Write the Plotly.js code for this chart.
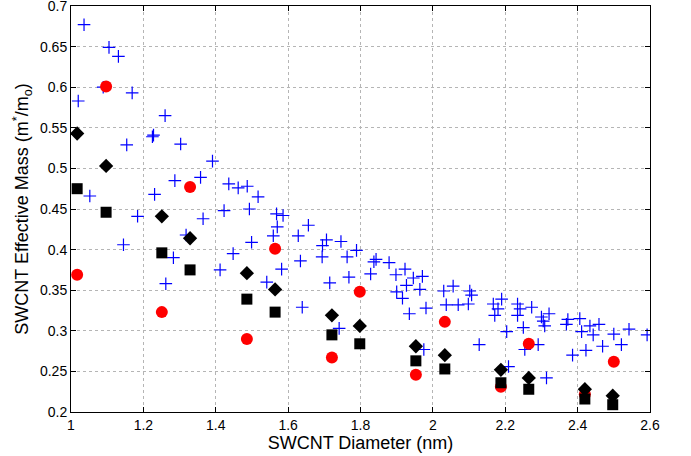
<!DOCTYPE html>
<html>
<head>
<meta charset="utf-8">
<script src="https://cdn.plot.ly/plotly-3.0.1.min.js"></script>
<style>html,body{margin:0;padding:0;background:#fff;}#chart{width:691px;height:456px;}</style>
</head>
<body>
<div id="chart"></div>
<script>
// Blue crosses (many-tube data)
const crossX = [1.036,1.105,1.131,1.089,1.169,1.020,1.260,1.225,1.228,1.303,1.154,1.391,1.287,1.358,1.052,1.231,1.436,1.462,1.487,1.517,1.423,1.493,1.184,1.365,1.499,1.145,1.318,1.448,1.283,1.412,1.262,1.568,1.586,1.570,1.656,1.559,1.628,1.706,1.695,1.746,1.789,1.694,1.763,1.634,1.843,1.837,1.879,1.582,1.923,1.898,1.828,1.768,1.946,1.971,1.541,1.715,1.927,1.900,1.964,2.030,1.916,1.639,1.935,1.981,2.037,1.741,1.975,2.056,2.070,2.102,2.107,2.098,2.128,2.167,2.180,2.190,2.171,2.204,2.209,2.234,2.241,2.234,2.273,2.250,2.254,2.291,2.300,2.305,2.321,2.309,2.314,2.369,2.373,2.406,2.386,2.411,2.423,2.434,2.459,2.443,2.469,2.500,2.521,2.542,2.592];
const crossY = [0.677,0.649,0.638,0.600,0.593,0.583,0.565,0.539,0.541,0.530,0.529,0.509,0.485,0.489,0.466,0.468,0.481,0.476,0.478,0.465,0.448,0.450,0.441,0.438,0.409,0.406,0.418,0.395,0.390,0.375,0.358,0.444,0.442,0.428,0.430,0.417,0.417,0.412,0.405,0.410,0.399,0.391,0.391,0.386,0.388,0.385,0.384,0.376,0.376,0.369,0.370,0.366,0.365,0.367,0.360,0.359,0.356,0.348,0.351,0.349,0.340,0.329,0.321,0.328,0.332,0.303,0.277,0.355,0.332,0.349,0.344,0.333,0.283,0.333,0.327,0.339,0.319,0.299,0.256,0.333,0.327,0.319,0.329,0.304,0.277,0.283,0.317,0.312,0.321,0.306,0.242,0.308,0.314,0.315,0.270,0.299,0.276,0.306,0.308,0.295,0.281,0.296,0.283,0.302,0.295];

// Red circles
const circleX = [1.017,1.097,1.251,1.329,1.486,1.564,1.721,1.798,1.953,2.033,2.188,2.265,2.420,2.500];
const circleY = [0.369,0.601,0.323,0.477,0.290,0.401,0.267,0.348,0.246,0.311,0.231,0.284,0.222,0.262];

// Black diamonds
const diamondX = [1.017,1.097,1.251,1.329,1.486,1.564,1.721,1.798,1.953,2.033,2.188,2.265,2.420,2.497];
const diamondY = [0.543,0.503,0.441,0.414,0.371,0.351,0.319,0.306,0.281,0.270,0.252,0.242,0.228,0.220];

// Black squares
const squareX = [1.017,1.097,1.251,1.329,1.486,1.564,1.721,1.798,1.953,2.033,2.188,2.265,2.420,2.497];
const squareY = [0.475,0.446,0.396,0.375,0.339,0.323,0.295,0.284,0.263,0.253,0.236,0.228,0.216,0.209];

const xTicks = [1,1.2,1.4,1.6,1.8,2,2.2,2.4,2.6];
const xTickText = ['1','1.2','1.4','1.6','1.8','2','2.2','2.4','2.6'];
const yTicks = [0.2,0.25,0.3,0.35,0.4,0.45,0.5,0.55,0.6,0.65,0.7];
const yTickText = ['0.2','0.25','0.3','0.35','0.4','0.45','0.5','0.55','0.6','0.65','0.7'];

const traces = [
  {x: crossX, y: crossY, mode: 'markers', type: 'scatter',
   marker: {symbol: 'cross-thin-open', size: 9, color: '#0000ff', line: {color: '#0000ff', width: 1.2}}},
  {x: circleX, y: circleY, mode: 'markers', type: 'scatter',
   marker: {symbol: 'circle', size: 12, color: '#ff0000', line: {width: 0}}},
  {x: diamondX, y: diamondY, mode: 'markers', type: 'scatter',
   marker: {symbol: 'diamond', size: 11, color: '#000000', line: {width: 0}}},
  {x: squareX, y: squareY, mode: 'markers', type: 'scatter',
   marker: {symbol: 'square', size: 11, color: '#000000', line: {width: 0}}}
];

const axisCommon = {
  showline: true, linecolor: '#000', linewidth: 1, mirror: 'ticks',
  ticks: 'inside', ticklen: 5, tickcolor: '#000',
  showgrid: true, gridcolor: '#b5b5b5', griddash: 'dot', gridwidth: 1,
  zeroline: false, ticklabeloverflow: 'allow',
  tickfont: {family: 'Liberation Sans, Arial, sans-serif', size: 14, color: '#000'}
};

const layout = {
  width: 691, height: 456,
  margin: {l: 71, r: 41, t: 6, b: 44},
  paper_bgcolor: '#fff', plot_bgcolor: '#fff',
  showlegend: false,
  font: {family: 'Liberation Sans, Arial, sans-serif', color: '#000'},
  xaxis: Object.assign({}, axisCommon, {
    range: [1, 2.6], tickvals: xTicks, ticktext: xTickText,
    title: {text: 'SWCNT Diameter (nm)', font: {size: 18, color: '#000'}, standoff: 0}
  }),
  yaxis: Object.assign({}, axisCommon, {
    range: [0.2, 0.7], tickvals: yTicks, ticktext: yTickText,
    title: {text: 'SWCNT Effective Mass (m<sup>*</sup>/m<sub>o</sub>)', font: {size: 18, color: '#000'}, standoff: 6}
  })
};

Plotly.newPlot('chart', traces, layout, {displayModeBar: false, staticPlot: true});
</script>
</body>
</html>
